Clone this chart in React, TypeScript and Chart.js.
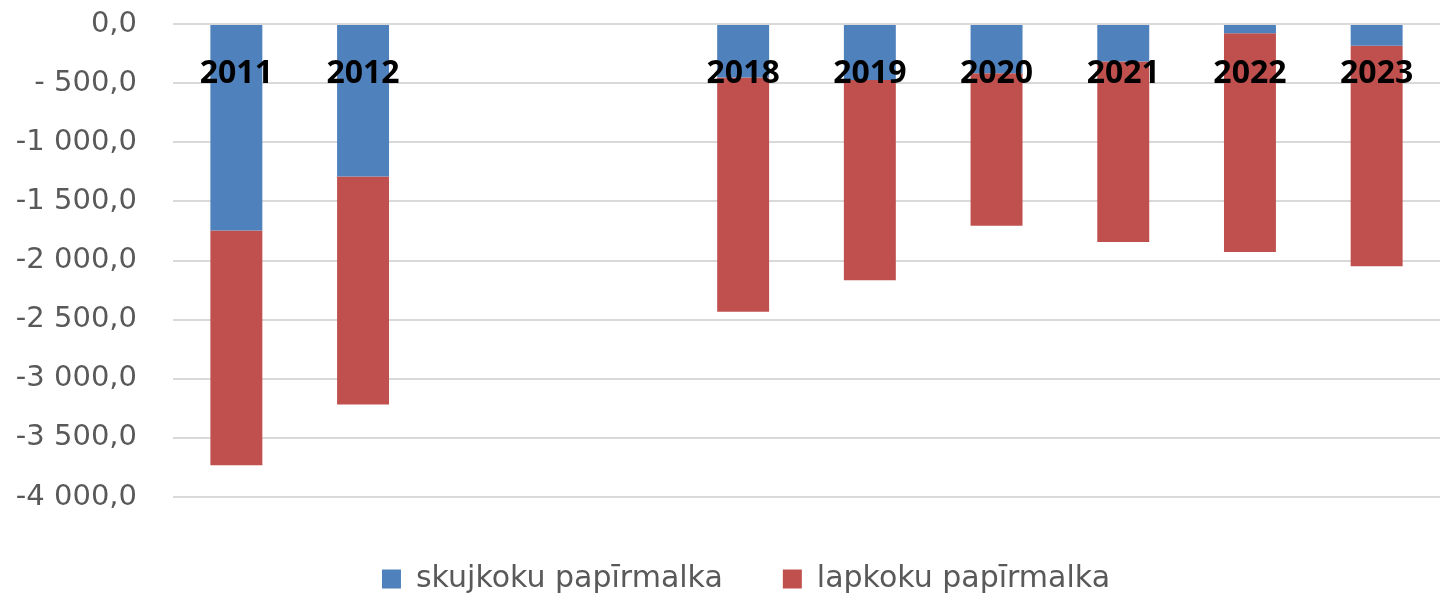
import React, { useEffect, useRef } from 'react';
import { Chart, registerables } from 'chart.js';

Chart.register(...registerables);

const categories = ['2011', '2012', '', '', '2018', '2019', '2020', '2021', '2022', '2023'];
const skujkoku = [-1746, -1290, null, null, -453, -473, -417, -318, -79, -183];
const lapkoku = [-1986, -1927, null, null, -1981, -1694, -1289, -1526, -1849, -1866];
const seriesNames = ['skujkoku papīrmalka', 'lapkoku papīrmalka'];
const seriesColors = ['#4F81BD', '#C0504D'];
const yTickValues = [0, -500, -1000, -1500, -2000, -2500, -3000, -3500, -4000];
const yTickLabels = ['0,0', '- 500,0', '-1 000,0', '-1 500,0', '-2 000,0', '-2 500,0', '-3 000,0', '-3 500,0', '-4 000,0'];

const FONT = "'DejaVu Sans', 'Open Sans', sans-serif";
const BOLD_FONT = "'Open Sans', 'DejaVu Sans', sans-serif";

const shiftPlugin = {
  id: 'legendShift',
  afterLayout(chart: any) {
    const lg = chart.legend;
    if (lg) {
      lg.left += 26;
      lg.right += 26;
      lg.top += 7;
      lg.bottom += 7;
    }
  },
};

export default function App() {
  const ref = useRef<HTMLCanvasElement | null>(null);
  useEffect(() => {
    if (!ref.current) return;
    const chart = new Chart(ref.current, {
      type: 'bar',
      data: {
        labels: categories,
        datasets: [
          { label: seriesNames[0], data: skujkoku, backgroundColor: seriesColors[0], borderWidth: 0 },
          { label: seriesNames[1], data: lapkoku, backgroundColor: seriesColors[1], borderWidth: 0 },
        ],
      },
      options: {
        animation: false,
        responsive: false,
        events: [],
        layout: { padding: { top: 24, right: 0, left: 0, bottom: 0 } },
        datasets: { bar: { categoryPercentage: 1, barPercentage: 0.41 } } as any,
        scales: {
          x: {
            stacked: true,
            position: { y: 0 } as any,
            grid: { display: false },
            border: { display: false },
            ticks: {
              z: 1,
              color: '#000000',
              padding: 23,
              maxRotation: 0,
              autoSkip: false,
              font: { family: BOLD_FONT, size: 32, weight: 'bold', lineHeight: 1.2 },
            },
          },
          y: {
            stacked: true,
            min: -4000,
            max: 0,
            afterFit: (s: any) => {
              s.width = 173;
              s.paddingTop = 0;
              s.paddingBottom = 0;
            },
            afterBuildTicks: (s: any) => { s.ticks = yTickValues.slice().reverse().map((v) => ({ value: v })); },
            grid: { color: '#D9D9D9', lineWidth: 2, drawTicks: false },
            border: { display: false },
            ticks: {
              color: '#595959',
              padding: 36,
              font: { family: FONT, size: 29 },
              callback: (v: any) => {
                const i = yTickValues.indexOf(Number(v));
                return i >= 0 ? yTickLabels[i] : '';
              },
            },
          },
        },
        plugins: {
          legend: {
            position: 'bottom',
            labels: {
              boxWidth: 19,
              boxHeight: 19,
              padding: 60,
              color: '#595959',
              font: { family: FONT, size: 30 },
            },
          },
          tooltip: { enabled: false },
        },
      },
      plugins: [shiftPlugin],
    });
    return () => chart.destroy();
  }, []);
  return (
    <div style={{ position: 'absolute', left: 0, top: 0, width: 1440, height: 597, background: '#fff' }}>
      <canvas ref={ref} width={1440} height={597} style={{ display: 'block' }} />
    </div>
  );
}
